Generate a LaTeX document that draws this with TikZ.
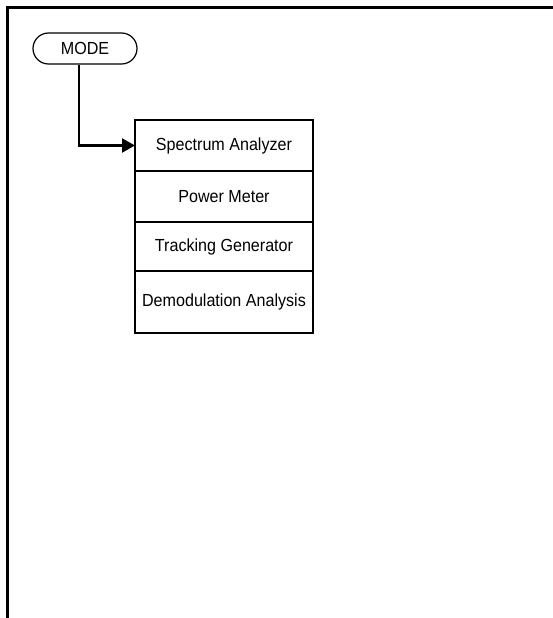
\documentclass[tikz,border=0pt]{standalone}
\usepackage{fontspec}
\setmainfont{Liberation Sans}[FakeStretch=0.92]
\usetikzlibrary{arrows.meta,shapes.misc}
\begin{document}
\begin{tikzpicture}[x=1pt,y=-1pt,
  frameline/.style={line width=3.5pt},
  modebox/.style={draw,rounded rectangle,line width=1.2pt,minimum width=104pt,minimum height=31pt,inner sep=0pt,font=\fontsize{17.5}{20}\selectfont},
  menubox/.style={draw,line width=2.4pt,minimum width=178pt,inner sep=0pt,outer sep=0pt,font=\fontsize{17.5}{20}\selectfont},
  conn/.style={line width=2.2pt,-{Triangle[length=13pt,width=14pt]}}]
\useasboundingbox (0,0) rectangle (553,618);
\draw[frameline] (7.5,619) -- (7.5,7.5) -- (554,7.5);
\node[modebox] (mode) at (85,48.5) {MODE};
\node[menubox,minimum height=51pt] (sa) at (224,145.5) {Spectrum Analyzer};
\node[menubox,minimum height=51pt] (pm) at (224,196.5) {Power Meter};
\node[menubox,minimum height=49pt] (tg) at (224,246.5) {Tracking Generator};
\node[menubox,minimum height=62pt] (da) at (224,302) {Demodulation Analysis};
\coordinate (vx) at (79,0);
\draw[conn] (mode.south -| vx) |- (sa.west);
\end{tikzpicture}
\end{document}
